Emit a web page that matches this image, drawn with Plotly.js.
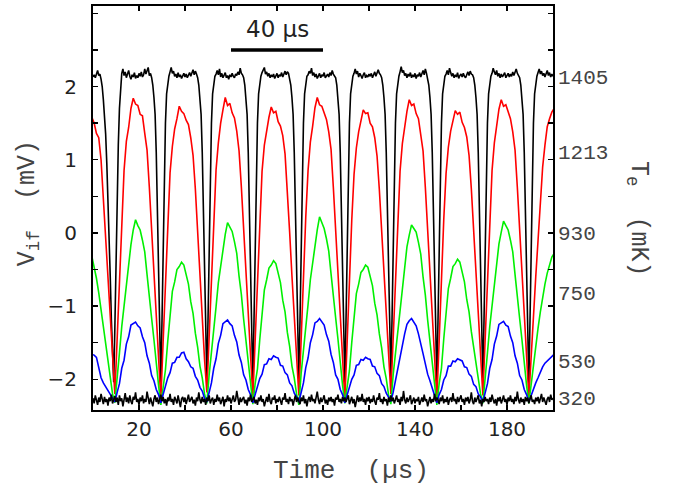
<!DOCTYPE html>
<html><head><meta charset="utf-8">
<script src="https://cdn.plot.ly/plotly-3.0.1.min.js"></script>
<style>html,body{margin:0;padding:0;background:#fff}#chart{width:673px;height:485px}</style>
</head><body><div id="chart"></div>
<script>
// Time axis sampling (µs)
const blackT0 = 0, blackDt = 0.5;
const colorT0 = -0.5, colorDt = 1;

// Black upper trace (mV), sampled every 0.5 µs from 0 µs
const blackTop = [
2.13,2.16,2.12,2.18,2.22,2.15,2.17,2.10,2.00,1.82,1.60,1.35,0.95,0.50,0.00,-0.60,-1.20,-1.75,-2.04,
-1.30,-0.40,0.50,1.20,1.70,2.00,
2.18,2.24,2.15,2.20,2.12,2.17,2.22,2.14,2.10,2.16,2.13,2.19,2.11,2.15,2.12,2.18,2.14,2.20,2.13,2.16,2.24,2.17,2.22,2.26,2.15,2.18,
2.12,2.02,1.85,1.62,1.10,0.40,-0.40,-1.25,
-2.08,-1.20,-0.15,0.80,1.50,1.90,2.05,2.14,
2.20,2.26,2.18,2.21,2.14,2.17,2.12,2.19,2.13,2.16,2.11,2.15,2.18,2.13,2.17,2.12,2.15,2.19,2.14,2.18,2.23,2.16,2.21,2.17,
2.12,2.02,1.85,1.62,1.10,0.40,-0.40,-1.25,
-2.02,-1.20,-0.15,0.80,1.50,1.90,2.05,2.14,
2.17,2.22,2.16,2.24,2.13,2.18,2.12,2.16,2.19,2.12,2.15,2.10,2.16,2.13,2.18,2.14,2.12,2.17,2.15,2.20,2.16,2.25,2.18,2.16,
2.12,2.02,1.85,1.62,1.10,0.40,-0.40,-1.25,
-2.10,-1.20,-0.15,0.80,1.50,1.90,2.05,2.14,
2.19,2.23,2.26,2.17,2.20,2.14,2.18,2.12,2.16,2.13,2.17,2.11,2.15,2.18,2.12,2.16,2.14,2.19,2.13,2.17,2.21,2.16,2.20,2.18,
2.12,2.02,1.85,1.62,1.10,0.40,-0.40,-1.25,
-2.00,-1.20,-0.15,0.80,1.50,1.90,2.05,2.14,
2.16,2.21,2.18,2.25,2.15,2.19,2.13,2.17,2.11,2.15,2.18,2.12,2.16,2.14,2.19,2.12,2.15,2.17,2.13,2.19,2.15,2.22,2.17,2.15,
2.12,2.02,1.85,1.62,1.10,0.40,-0.40,-1.25,
-2.06,-1.20,-0.15,0.80,1.50,1.90,2.05,2.14,
2.18,2.24,2.17,2.21,2.13,2.18,2.15,2.11,2.16,2.19,2.12,2.15,2.13,2.17,2.14,2.18,2.12,2.16,2.20,2.14,2.19,2.23,2.18,2.16,
2.12,2.02,1.85,1.62,1.10,0.40,-0.40,-1.25,
-1.98,-1.20,-0.15,0.80,1.50,1.90,2.05,2.14,
2.20,2.27,2.19,2.22,2.15,2.18,2.12,2.17,2.14,2.19,2.12,2.16,2.13,2.18,2.11,2.16,2.14,2.19,2.13,2.17,2.22,2.16,2.24,2.18,
2.12,2.02,1.85,1.62,1.10,0.40,-0.40,-1.25,
-2.05,-1.20,-0.15,0.80,1.50,1.90,2.05,2.14,
2.17,2.22,2.16,2.25,2.19,2.14,2.18,2.12,2.16,2.13,2.19,2.11,2.15,2.17,2.13,2.18,2.14,2.12,2.16,2.20,2.15,2.21,2.17,2.16,
2.12,2.02,1.85,1.62,1.10,0.40,-0.40,-1.25,
-2.03,-1.20,-0.15,0.80,1.50,1.90,2.05,2.14,
2.18,2.25,2.20,2.16,2.22,2.14,2.18,2.12,2.17,2.13,2.16,2.19,2.12,2.15,2.18,2.13,2.17,2.14,2.20,2.15,2.19,2.24,2.18,2.15,
2.12,2.02,1.85,1.62,1.10,0.40,-0.40,-1.25,
-2.07,-1.20,-0.15,0.80,1.50,1.90,2.05,2.14,
2.19,2.24,2.17,2.21,2.15,2.18,2.13,2.17,2.22,2.15,2.19,2.13,2.17,2.14
];

// Black lower (baseline) trace (mV), every 0.5 µs from 0 µs
const blackBottom = [
-2.26,-2.33,-2.22,-2.30,-2.35,-2.25,-2.31,-2.20,-2.28,-2.34,-2.24,-2.31,-2.27,-2.36,-2.25,-2.30,-2.21,-2.33,-2.28,-2.23,
-2.31,-2.25,-2.35,-2.22,-2.30,-2.26,-2.37,-2.28,-2.19,-2.31,-2.25,-2.33,-2.22,-2.30,-2.34,-2.24,-2.28,-2.18,-2.31,-2.27,
-2.35,-2.25,-2.30,-2.22,-2.33,-2.27,-2.31,-2.17,-2.28,-2.34,-2.25,-2.30,-2.37,-2.27,-2.22,-2.31,-2.25,-2.34,-2.28,-2.21,
-2.30,-2.24,-2.33,-2.27,-2.36,-2.25,-2.30,-2.20,-2.31,-2.27,-2.35,-2.24,-2.28,-2.33,-2.22,-2.30,-2.38,-2.27,-2.24,-2.31,
-2.25,-2.34,-2.28,-2.21,-2.31,-2.27,-2.24,-2.33,-2.28,-2.36,-2.25,-2.30,-2.18,-2.28,-2.33,-2.24,-2.31,-2.27,-2.35,-2.25,
-2.30,-2.22,-2.33,-2.28,-2.25,-2.35,-2.27,-2.31,-2.21,-2.30,-2.25,-2.34,-2.28,-2.24,-2.37,-2.27,-2.31,-2.22,-2.30,-2.25,
-2.33,-2.27,-2.22,-2.31,-2.28,-2.16,-2.30,-2.35,-2.25,-2.31,-2.27,-2.24,-2.33,-2.28,-2.36,-2.25,-2.30,-2.21,-2.31,-2.27,
-2.24,-2.33,-2.28,-2.35,-2.25,-2.30,-2.22,-2.31,-2.27,-2.37,-2.28,-2.24,-2.31,-2.20,-2.30,-2.34,-2.25,-2.28,-2.22,-2.33,
-2.27,-2.31,-2.24,-2.30,-2.35,-2.25,-2.28,-2.19,-2.31,-2.27,-2.34,-2.24,-2.30,-2.27,-2.36,-2.28,-2.22,-2.31,-2.25,-2.30,
-2.34,-2.25,-2.30,-2.22,-2.33,-2.27,-2.37,-2.28,-2.24,-2.31,-2.21,-2.30,-2.27,-2.33,-2.25,-2.17,-2.28,-2.34,-2.25,-2.31,
-2.27,-2.22,-2.33,-2.28,-2.35,-2.25,-2.30,-2.24,-2.31,-2.27,-2.36,-2.25,-2.28,-2.21,-2.31,-2.27,-2.33,-2.24,-2.30,-2.25,
-2.31,-2.27,-2.22,-2.34,-2.28,-2.24,-2.33,-2.27,-2.38,-2.28,-2.22,-2.31,-2.25,-2.30,-2.20,-2.31,-2.27,-2.35,-2.25,-2.30,
-2.24,-2.33,-2.27,-2.31,-2.22,-2.30,-2.35,-2.25,-2.28,-2.19,-2.31,-2.27,-2.34,-2.24,-2.30,-2.27,-2.36,-2.25,-2.31,-2.22,
-2.30,-2.25,-2.33,-2.28,-2.22,-2.31,-2.27,-2.35,-2.24,-2.30,-2.16,-2.28,-2.33,-2.25,-2.31,-2.27,-2.22,-2.34,-2.28,-2.25,
-2.33,-2.27,-2.30,-2.24,-2.35,-2.28,-2.25,-2.31,-2.21,-2.30,-2.27,-2.37,-2.28,-2.24,-2.33,-2.27,-2.31,-2.20,-2.30,-2.25,
-2.28,-2.34,-2.25,-2.30,-2.22,-2.33,-2.27,-2.31,-2.24,-2.35,-2.28,-2.25,-2.31,-2.19,-2.30,-2.27,-2.34,-2.24,-2.31,-2.27,
-2.22,-2.31,-2.27,-2.35,-2.25,-2.30,-2.24,-2.33,-2.28,-2.18,-2.30,-2.34,-2.25,-2.31,-2.27,-2.22,-2.33,-2.28,-2.37,-2.27,
-2.31,-2.24,-2.30,-2.27,-2.34,-2.25,-2.31,-2.21,-2.28,-2.33,-2.27,-2.36,-2.25,-2.30,-2.24,-2.33,-2.28,-2.22,-2.31,-2.27,
-2.35,-2.25,-2.30,-2.22,-2.31,-2.27,-2.34,-2.24,-2.30,-2.17,-2.28,-2.33,-2.25,-2.31,-2.27,-2.35,-2.24,-2.30,-2.25,-2.33,
-2.27,-2.22,-2.31,-2.28,-2.34,-2.25,-2.30,-2.24,-2.33,-2.27,-2.20,-2.31,-2.25,-2.30,-2.35,-2.27,-2.24,-2.31,-2.21,-2.28,
-2.26
];

// Red trace (mV), every 1 µs from -0.5 µs
const redTrace = [
1.58,1.50,1.36,1.30,1.00,0.45,-0.10,-0.70,-1.25,-1.75,
-2.20,-1.45,-0.60,0.20,0.85,1.25,1.44,1.70,1.84,1.76,1.74,1.62,1.60,1.36,1.13,0.62,0.02,-0.58,-1.15,-1.72,
-2.28,-1.48,-0.62,0.18,0.82,1.18,1.42,1.56,1.73,1.66,1.63,1.54,1.48,1.30,1.06,0.60,0.00,-0.60,-1.17,-1.73,
-2.18,-1.44,-0.58,0.22,0.86,1.23,1.50,1.68,1.85,1.74,1.77,1.64,1.57,1.39,1.12,0.63,0.03,-0.57,-1.14,-1.70,
-2.25,-1.47,-0.61,0.19,0.84,1.20,1.40,1.58,1.72,1.64,1.66,1.52,1.46,1.33,1.08,0.61,0.01,-0.59,-1.16,-1.72,
-2.22,-1.46,-0.59,0.21,0.85,1.24,1.46,1.71,1.85,1.75,1.73,1.65,1.55,1.38,1.14,0.62,0.02,-0.58,-1.15,-1.71,
-2.28,-1.49,-0.63,0.17,0.80,1.16,1.38,1.55,1.68,1.63,1.64,1.50,1.45,1.30,1.05,0.59,0.00,-0.60,-1.17,-1.73,
-2.20,-1.45,-0.60,0.20,0.84,1.22,1.47,1.66,1.82,1.74,1.76,1.63,1.56,1.37,1.12,0.62,0.02,-0.58,-1.15,-1.72,
-2.27,-1.48,-0.62,0.18,0.81,1.17,1.39,1.54,1.67,1.62,1.65,1.51,1.44,1.31,1.06,0.60,0.00,-0.60,-1.16,-1.72,
-2.22,-1.46,-0.60,0.20,0.85,1.23,1.45,1.69,1.82,1.73,1.75,1.64,1.56,1.38,1.13,0.62,0.02,-0.58,-1.15,-1.71,
-2.25,-1.70,-1.10,-0.60,-0.10,0.45,0.90,1.20,1.45,1.56,1.65,1.70
];

// Green trace (mV), every 1 µs from -0.5 µs
const greenTrace = [
-0.32,-0.45,-0.62,-0.82,-1.05,-1.30,-1.55,-1.80,-2.02,-2.20,
-2.32,-1.93,-1.64,-1.28,-1.00,-0.66,-0.43,-0.16,0.04,0.18,0.10,0.04,-0.10,-0.26,-0.57,-0.83,-1.17,-1.46,-1.82,-2.08,
-2.35,-2.08,-1.87,-1.48,-1.12,-0.80,-0.67,-0.50,-0.46,-0.40,-0.44,-0.58,-0.70,-0.94,-1.10,-1.37,-1.56,-1.82,-1.98,-2.20,
-2.33,-1.94,-1.65,-1.29,-1.01,-0.68,-0.46,-0.18,-0.02,0.14,0.08,0.02,-0.12,-0.28,-0.59,-0.84,-1.18,-1.47,-1.83,-2.08,
-2.34,-2.06,-1.86,-1.46,-1.10,-0.78,-0.64,-0.48,-0.44,-0.38,-0.42,-0.57,-0.68,-0.92,-1.08,-1.36,-1.55,-1.82,-1.98,-2.20,
-2.35,-1.92,-1.63,-1.26,-0.98,-0.64,-0.42,-0.13,0.04,0.22,0.13,0.06,-0.08,-0.25,-0.56,-0.82,-1.16,-1.45,-1.82,-2.08,
-2.33,-2.08,-1.88,-1.50,-1.14,-0.83,-0.70,-0.54,-0.50,-0.44,-0.47,-0.60,-0.72,-0.96,-1.12,-1.38,-1.57,-1.83,-1.99,-2.21,
-2.34,-1.94,-1.65,-1.30,-1.02,-0.69,-0.47,-0.19,-0.03,0.11,0.06,0.01,-0.13,-0.29,-0.60,-0.85,-1.19,-1.47,-1.83,-2.09,
-2.35,-2.06,-1.85,-1.45,-1.09,-0.76,-0.62,-0.46,-0.42,-0.36,-0.40,-0.55,-0.67,-0.91,-1.08,-1.35,-1.55,-1.81,-1.98,-2.20,
-2.33,-1.93,-1.64,-1.28,-1.00,-0.66,-0.44,-0.15,0.01,0.16,0.10,0.04,-0.10,-0.26,-0.57,-0.83,-1.17,-1.46,-1.82,-2.08,
-2.33,-2.05,-1.80,-1.55,-1.30,-1.08,-0.88,-0.70,-0.55,-0.45,-0.33,-0.28
];

// Blue trace (mV), every 1 µs from -0.5 µs
const blueTrace = [
-1.66,-1.67,-1.70,-1.85,-1.98,-2.05,-2.10,-2.15,-2.20,-2.26,
-2.31,-2.18,-2.06,-1.85,-1.74,-1.52,-1.42,-1.26,-1.24,-1.22,-1.27,-1.30,-1.42,-1.50,-1.68,-1.78,-1.95,-2.02,-2.14,-2.21,
-2.32,-2.20,-2.12,-1.98,-1.91,-1.78,-1.77,-1.70,-1.70,-1.64,-1.63,-1.72,-1.76,-1.83,-1.85,-1.96,-2.01,-2.11,-2.16,-2.26,
-2.31,-2.17,-2.05,-1.85,-1.72,-1.51,-1.40,-1.24,-1.22,-1.19,-1.24,-1.27,-1.40,-1.49,-1.67,-1.77,-1.94,-2.01,-2.14,-2.21,
-2.32,-2.21,-2.12,-1.99,-1.93,-1.80,-1.79,-1.72,-1.73,-1.68,-1.70,-1.71,-1.81,-1.82,-1.91,-1.94,-2.05,-2.09,-2.19,-2.24,
-2.31,-2.17,-2.05,-1.84,-1.71,-1.50,-1.39,-1.23,-1.21,-1.17,-1.22,-1.26,-1.39,-1.48,-1.66,-1.77,-1.94,-2.00,-2.14,-2.21,
-2.32,-2.21,-2.13,-2.00,-1.94,-1.81,-1.80,-1.73,-1.74,-1.70,-1.72,-1.73,-1.82,-1.83,-1.92,-1.95,-2.06,-2.10,-2.19,-2.24,
-2.30,-2.18,-2.04,-1.86,-1.70,-1.52,-1.38,-1.25,-1.20,-1.17,-1.23,-1.27,-1.38,-1.50,-1.65,-1.79,-1.93,-2.02,-2.13,-2.22,
-2.32,-2.21,-2.14,-2.01,-1.95,-1.82,-1.82,-1.75,-1.76,-1.72,-1.74,-1.75,-1.83,-1.84,-1.93,-1.96,-2.07,-2.10,-2.20,-2.24,
-2.31,-2.18,-2.06,-1.85,-1.73,-1.52,-1.41,-1.25,-1.23,-1.21,-1.26,-1.28,-1.41,-1.50,-1.68,-1.78,-1.95,-2.01,-2.14,-2.21,
-2.31,-2.22,-2.12,-2.05,-1.98,-1.90,-1.83,-1.78,-1.75,-1.72,-1.68,-1.66
];

// Tick labels
const xTickVals = [20,40,60,80,100,120,140,160,180];
const xTickText = ['20','','60','','100','','140','','180'];
const yTickVals = [-2,-1.5,-1,-0.5,0,0.5,1,1.5,2,2.5,3];
const yTickText = ['\u22122','','\u22121','','0','','1','','2','',''];
const teTickVals = [2.14,1.11,0,-0.82,-1.74,-2.25];
const teTickText = ['1405','1213','930','750','530','320'];

// Scale bar (µs)
const barStart = 60, barLength = 40, barLevel = 2.5, barLabelLevel = 2.79;

const yRange = [-2.42, 3.10];
const lw = 1.6;
const sans = 'DejaVu Sans, Verdana, sans-serif';
const mono = 'Liberation Mono, Courier New, monospace';
const monoColor = '#444';

const traces = [
  {type:'scatter', mode:'lines', x0:blackT0, dx:blackDt, y:blackTop, line:{color:'#000000', width:lw}, hoverinfo:'skip'},
  {type:'scatter', mode:'lines', x0:colorT0, dx:colorDt, y:redTrace, line:{color:'#ff0000', width:lw}, hoverinfo:'skip'},
  {type:'scatter', mode:'lines', x0:colorT0, dx:colorDt, y:greenTrace, line:{color:'#00f000', width:lw}, hoverinfo:'skip'},
  {type:'scatter', mode:'lines', x0:colorT0, dx:colorDt, y:blueTrace, line:{color:'#0000ff', width:lw}, hoverinfo:'skip'},
  {type:'scatter', mode:'lines', x0:blackT0, dx:blackDt, y:blackBottom, yaxis:'y2', line:{color:'#000000', width:lw}, hoverinfo:'skip'}
];

const axisCommon = {
  ticks:'inside', ticklen:5, tickwidth:1.5, tickcolor:'#000',
  showline:true, linewidth:2, linecolor:'#000', mirror:'ticks',
  showgrid:false, zeroline:false
};

const layout = {
  width:673, height:485,
  margin:{l:93, r:120, t:6, b:75},
  paper_bgcolor:'#fff', plot_bgcolor:'#fff',
  showlegend:false,
  xaxis: Object.assign({}, axisCommon, {
    range:[0,200], tickmode:'array', tickvals:xTickVals, ticktext:xTickText,
    tickfont:{family:sans, size:20, color:'#222'}, ticklabelstandoff:0
  }),
  yaxis: Object.assign({}, axisCommon, {
    range:yRange, tickmode:'array', tickvals:yTickVals, ticktext:yTickText,
    tickfont:{family:sans, size:20, color:'#222'}, ticklabelstandoff:10
  }),
  yaxis2: {
    overlaying:'y', side:'right', range:yRange, tickmode:'array',
    tickvals:teTickVals, ticktext:teTickText, ticks:'', showline:false,
    showgrid:false, zeroline:false, ticklabelstandoff:4,
    tickfont:{family:mono, size:21, color:monoColor}
  },
  shapes:[{type:'line', xref:'x', yref:'y', x0:barStart, x1:barStart+barLength, y0:barLevel, y1:barLevel, line:{color:'#000', width:3.5}}],
  annotations:[
    {xref:'x', yref:'y', x:barStart+barLength/2, y:barLabelLevel, text:'40 \u00b5s', showarrow:false, font:{family:sans, size:23, color:'#222'}},
    {xref:'paper', yref:'paper', x:-0.1413, y:0.512, text:'V<sub>if</sub>\u00a0 (mV)', textangle:-90, showarrow:false, xanchor:'center', yanchor:'middle', font:{family:mono, size:25, color:monoColor}},
    {xref:'paper', yref:'paper', x:1.1826, y:0.473, text:'T<sub>e</sub>\u00a0 (mK)', textangle:90, showarrow:false, xanchor:'center', yanchor:'middle', font:{family:mono, size:25, color:monoColor}},
    {xref:'paper', yref:'paper', x:0.561, y:-0.152, text:'Time\u00a0 (\u00b5s)', showarrow:false, xanchor:'center', yanchor:'middle', font:{family:mono, size:26, color:monoColor}}
  ]
};

Plotly.newPlot('chart', traces, layout, {staticPlot:true, displayModeBar:false});
</script>
</body></html>
